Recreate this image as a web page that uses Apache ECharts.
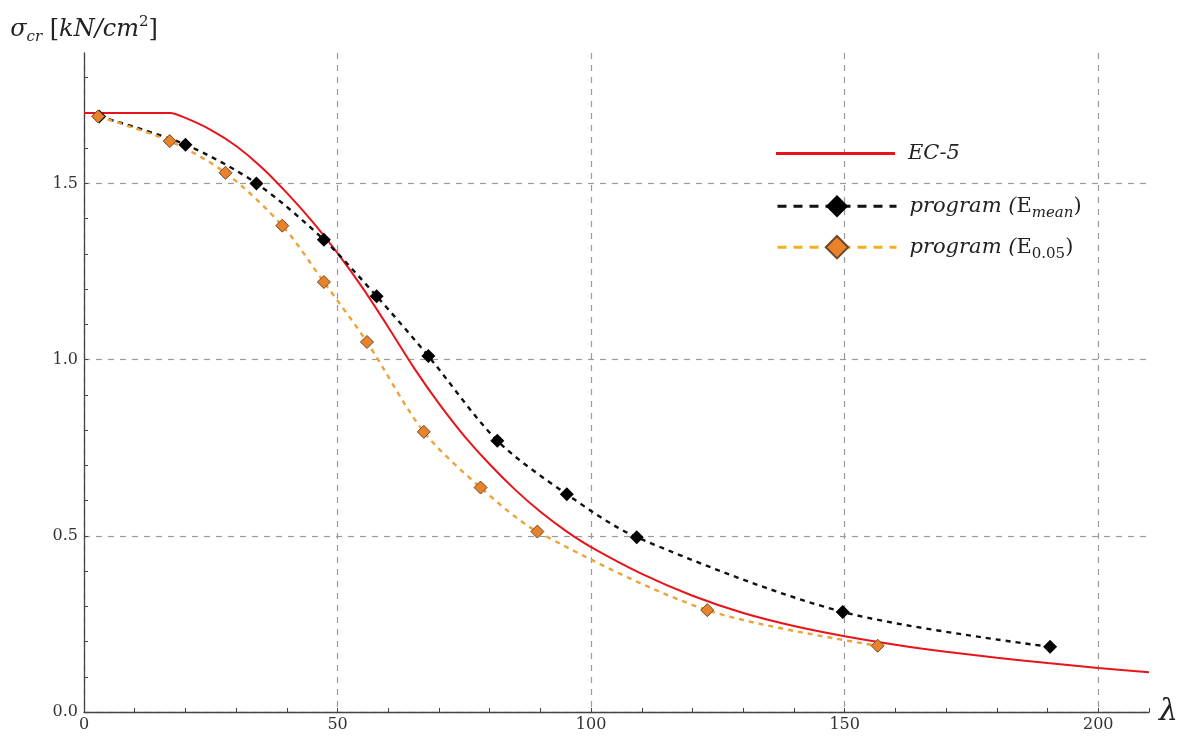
<!DOCTYPE html>
<html>
<head>
<meta charset="UTF-8">
<title>sigma_cr - lambda</title>
<style>
  html, body { margin: 0; padding: 0; background: #fff; }
  #main { width: 1181px; height: 736px; }
</style>
</head>
<body>
<div id="main"></div>
<script src="https://cdn.jsdelivr.net/npm/echarts@6/dist/echarts.min.js"></script>
<script type="text/javascript">
  // EC-5 curve
  var lambdaEC = [0, 17, 20, 25, 30, 35, 40, 45, 50, 55, 60, 65, 70, 75, 80, 85, 90, 95, 100, 110, 120, 130, 140, 150, 160, 170, 180, 190, 200, 210];
  var sigmaEC = [1.70, 1.70, 1.686, 1.652, 1.606, 1.546, 1.473, 1.392, 1.302, 1.202, 1.092, 0.978, 0.875, 0.783, 0.703, 0.631, 0.568, 0.514, 0.468, 0.392, 0.330, 0.281, 0.244, 0.215, 0.191, 0.171, 0.154, 0.139, 0.125, 0.113];

  // program (E_mean)
  var lambdaMean = [3, 20, 34, 47.3, 57.7, 67.9, 81.5, 95.2, 109, 149.6, 190.5];
  var sigmaMean = [1.69, 1.61, 1.50, 1.34, 1.18, 1.01, 0.77, 0.618, 0.496, 0.284, 0.185];

  // program (E_0.05)
  var lambda005 = [2.8, 16.9, 27.9, 39.1, 47.3, 55.8, 67.0, 78.2, 89.4, 122.9, 156.5];
  var sigma005 = [1.69, 1.62, 1.53, 1.38, 1.22, 1.05, 0.795, 0.637, 0.512, 0.289, 0.188];

  // ticks / labels
  var xLabels = [0, 50, 100, 150, 200];
  var yLabels = [0.0, 0.5, 1.0, 1.5];

  function zip(xs, ys) {
    var out = [];
    for (var i = 0; i < xs.length; i++) out.push([xs[i], ys[i]]);
    return out;
  }

  var serif = 'DejaVu Serif';
  var gridColor = '#9a9a9a';
  var axisColor = '#444';

  var txt = {
    i: { fontFamily: serif, fontStyle: 'italic', fontSize: 21, color: '#222', lineHeight: 28 },
    u: { fontFamily: serif, fontSize: 21, color: '#222', lineHeight: 28 },
    si: { fontFamily: serif, fontStyle: 'italic', fontSize: 15, color: '#222', lineHeight: 15, verticalAlign: 'bottom' },
    su: { fontFamily: serif, fontSize: 15, color: '#222', lineHeight: 15, verticalAlign: 'bottom' }
  };

  function legendText(name) {
    if (name === 'EC-5') return '{i|EC-5}';
    if (name === 'program (Emean)') return '{i|program (}{u|E}{si|mean}{u|)}';
    return '{i|program (}{u|E}{su|0.05}{u|)}';
  }

  function mkLegend(item, top, h, lineStyle) {
    return {
      data: [item],
      left: 771,
      top: top,
      itemWidth: 119,
      itemHeight: h,
      selectedMode: false,
      lineStyle: lineStyle,
      formatter: legendText,
      textStyle: { rich: txt, padding: [0, 0, 0, 8] }
    };
  }

  var myChart = echarts.init(document.getElementById('main'));
  var option = {
    animation: false,
    backgroundColor: '#fff',
    grid: { left: 84, right: 29, top: 53, bottom: 24, containLabel: false },
    legend: [
      mkLegend({ name: 'EC-5', icon: 'rect', itemStyle: { color: '#e8141b' } }, 138, 3, { width: 3 }),
      mkLegend('program (Emean)', 190, 28, { width: 3, type: [9, 7], color: '#111' }),
      mkLegend('program (E0.05)', 230, 28, { width: 3, type: [9, 7], color: '#f2b11e' })
    ],
    xAxis: {
      type: 'value',
      min: 0,
      max: 210,
      interval: 10,
      name: 'λ',
      nameLocation: 'end',
      nameGap: 10,
      nameTextStyle: { fontFamily: serif, fontStyle: 'italic', fontSize: 30, color: '#222', verticalAlign: 'middle', padding: [0, 0, 6, 0] },
      axisLine: { lineStyle: { color: axisColor, width: 1.3 } },
      axisTick: { inside: true, length: 4, lineStyle: { color: axisColor } },
      axisLabel: {
        margin: 5,
        fontFamily: serif,
        fontSize: 16,
        color: '#333',
        formatter: function (v) { return xLabels.indexOf(v) >= 0 ? String(v) : ''; }
      },
      splitLine: {
        show: true,
        lineStyle: {
          color: [gridColor, 'transparent', 'transparent', 'transparent', 'transparent'],
          type: [6, 6],
          width: 1.2
        }
      }
    },
    yAxis: {
      type: 'value',
      min: 0,
      max: 1.87,
      interval: 0.1,
      name: '{a|σ}{s|cr}{b| [}{a|kN/cm}{p|2}{b|]}',
      nameLocation: 'end',
      nameGap: 8,
      nameTextStyle: {
        align: 'center',
        rich: {
          a: { fontFamily: serif, fontStyle: 'italic', fontSize: 24, color: '#222', lineHeight: 30 },
          b: { fontFamily: serif, fontSize: 24, color: '#222', lineHeight: 30 },
          s: { fontFamily: serif, fontStyle: 'italic', fontSize: 15, color: '#222', lineHeight: 15, verticalAlign: 'bottom' },
          p: { fontFamily: serif, fontSize: 15, color: '#222', lineHeight: 15, verticalAlign: 'top' }
        }
      },
      axisLine: { show: true, lineStyle: { color: axisColor, width: 1.3 } },
      axisTick: { show: true, inside: true, length: 4, lineStyle: { color: axisColor } },
      axisLabel: {
        margin: 6,
        showMaxLabel: false,
        fontFamily: serif,
        fontSize: 16,
        color: '#333',
        formatter: function (v) {
          for (var i = 0; i < yLabels.length; i++) {
            if (Math.abs(v - yLabels[i]) < 1e-6) return yLabels[i].toFixed(1);
          }
          return '';
        }
      },
      splitLine: {
        show: true,
        lineStyle: {
          color: [gridColor, 'transparent', 'transparent', 'transparent', 'transparent'],
          type: [6, 6],
          width: 1.2
        }
      }
    },
    series: [
      {
        name: 'EC-5',
        type: 'line',
        data: zip(lambdaEC, sigmaEC),
        smooth: 0.25,
        showSymbol: false,
        symbol: 'none',
        lineStyle: { color: '#e8141b', width: 2 },
        itemStyle: { color: '#e8141b' },
        z: 3
      },
      {
        name: 'program (Emean)',
        type: 'line',
        data: zip(lambdaMean, sigmaMean),
        smooth: 0.3,
        symbol: 'diamond',
        symbolSize: 14,
        lineStyle: { color: '#111', width: 2.4, type: [5, 5] },
        itemStyle: { color: '#000', borderColor: '#000', borderWidth: 0 },
        z: 4
      },
      {
        name: 'program (E0.05)',
        type: 'line',
        data: zip(lambda005, sigma005),
        smooth: 0.3,
        symbol: 'diamond',
        symbolSize: 13,
        lineStyle: { color: '#eda23c', width: 2.4, type: [5, 5] },
        itemStyle: { color: '#e8832c', borderColor: '#6b4a2a', borderWidth: 1 },
        z: 4
      }
    ]
  };
  myChart.setOption(option);
</script>
</body>
</html>
